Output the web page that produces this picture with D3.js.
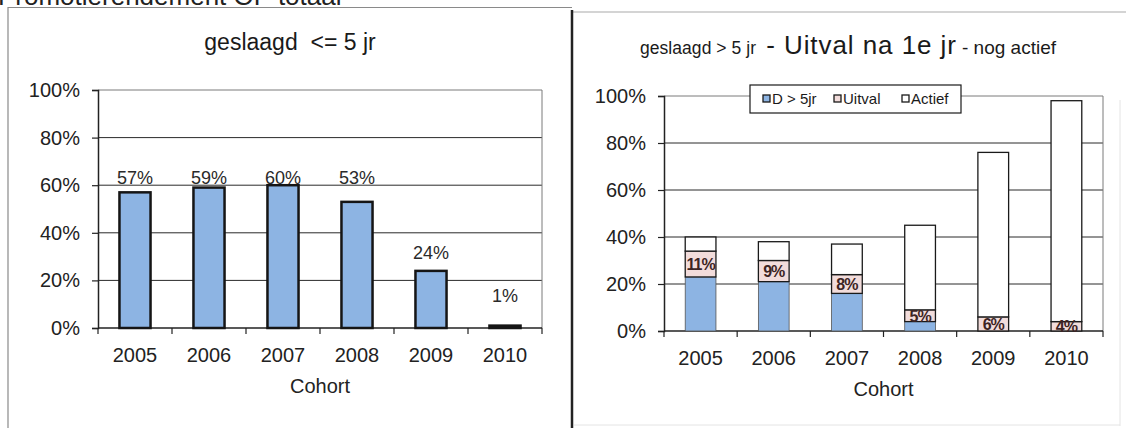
<!DOCTYPE html>
<html>
<head>
<meta charset="utf-8">
<script src="https://cdn.jsdelivr.net/npm/d3@7"></script>
<style>
  html, body { margin: 0; padding: 0; background: #fff; }
  svg { display: block; font-family: Arial, "Liberation Sans", sans-serif; }
</style>
</head>
<body>
<svg id="chart" width="1126" height="428"></svg>
<script>
// ---- data ----
const cohorts = ["2005", "2006", "2007", "2008", "2009", "2010"];
const geslaagd5 = [0.57, 0.59, 0.60, 0.53, 0.24, 0.01];
const seriesNames = ["D > 5jr", "Uitval", "Actief"];
const dMeer5 = [0.23, 0.21, 0.16, 0.04, 0.00, 0.00];
const uitval = [0.11, 0.09, 0.08, 0.05, 0.06, 0.04];
const actief = [0.06, 0.08, 0.13, 0.36, 0.70, 0.94];
const yTicks = [0, 0.2, 0.4, 0.6, 0.8, 1.0];
const pageTitle = "Promotierendement OP totaal";
const titleLeft = "geslaagd  <= 5 jr";
const titleRightParts = ["geslaagd > 5 jr", " - Uitval na 1e jr", "- nog actief"];
const xTitle = "Cohort";

const colors = { blue: "#8db4e3", pink: "#f2dcdb", white: "#ffffff" };
const svg = d3.select("#chart");
const pct = d3.format(".0%");

// page header (cut off at top, as in the source)
svg.append("text").attr("x", -2).attr("y", 5).attr("font-size", 26).attr("fill", "#222").text(pageTitle);

// panel frames
svg.append("path").attr("d", "M8,428 V7.5 H572").attr("fill", "none").attr("stroke", "#8a8a8a").attr("stroke-width", 1.2);
svg.append("line").attr("x1", 572).attr("x2", 1126).attr("y1", 12).attr("y2", 12).attr("stroke", "#aaa").attr("stroke-width", 1.2);
svg.append("line").attr("x1", 572).attr("x2", 572).attr("y1", 10).attr("y2", 428).attr("stroke", "#222").attr("stroke-width", 2.5);
svg.append("line").attr("x1", 1120).attr("x2", 1120).attr("y1", 100).attr("y2", 426).attr("stroke", "#e4e4e4");
svg.append("line").attr("x1", 574).attr("x2", 1120).attr("y1", 425).attr("y2", 425).attr("stroke", "#e4e4e4");

function drawAxes(g, x, y, x0, x1) {
  g.selectAll(".grid").data(yTicks.filter(t => t > 0 && t < 1)).join("line")
    .attr("x1", x0).attr("x2", x1).attr("y1", d => y(d)).attr("y2", d => y(d))
    .attr("stroke", "#2a2a2a").attr("stroke-width", 1);
  g.append("path").attr("d", `M${x0},${y(1)} H${x1} V${y(0)}`).attr("fill", "none")
    .attr("stroke", "#7a7a7a").attr("stroke-width", 1);
  const ya = d3.axisLeft(y).tickValues(yTicks).tickFormat(pct).tickSize(6).tickPadding(12);
  const yg = g.append("g").attr("transform", `translate(${x0},0)`).call(ya);
  yg.select(".domain").attr("stroke", "#222").attr("stroke-width", 1.5);
  yg.selectAll(".tick line").attr("stroke", "#222").attr("stroke-width", 1.2);
  yg.selectAll("text").attr("font-size", 20).attr("fill", "#222").attr("font-family", "Arial, 'Liberation Sans', sans-serif");
  const xa = d3.axisBottom(x).tickSize(0).tickPadding(20);
  const xg = g.append("g").attr("transform", `translate(0,${y(0)})`).call(xa);
  xg.select(".domain").remove();
  xg.selectAll("text").attr("font-size", 20).attr("fill", "#222").attr("font-family", "Arial, 'Liberation Sans', sans-serif");
  g.append("line").attr("x1", x0).attr("x2", x1).attr("y1", y(0)).attr("y2", y(0)).attr("stroke", "#222").attr("stroke-width", 1.5);
  const bounds = cohorts.map(c => x(c) - x.step() * x.paddingOuter()).concat([x1]);
  g.selectAll(".xt").data(bounds).join("line")
    .attr("x1", d => d).attr("x2", d => d).attr("y1", y(0)).attr("y2", y(0) + 6)
    .attr("stroke", "#222").attr("stroke-width", 1.2);
  g.append("text").attr("x", (x0 + x1) / 2).attr("y", y(0) + 65).attr("text-anchor", "middle")
    .attr("font-size", 20).attr("fill", "#222").text(xTitle);
}

// ---- left chart ----
{
  const x0 = 98, x1 = 542;
  const x = d3.scaleBand().domain(cohorts).range([x0, x1]).paddingInner(0.58).paddingOuter(0.29);
  const y = d3.scaleLinear().domain([0, 1]).range([328, 90]);
  const g = svg.append("g");
  svg.append("text").attr("x", 290).attr("y", 50).attr("text-anchor", "middle")
    .attr("font-size", 23).attr("fill", "#1a1a1a").attr("xml:space", "preserve").text(titleLeft);
  drawAxes(g, x, y, x0, x1);
  g.selectAll(".bar").data(geslaagd5).join("rect")
    .attr("x", (d, i) => x(cohorts[i])).attr("width", x.bandwidth())
    .attr("y", d => y(d)).attr("height", d => y(0) - y(d))
    .attr("fill", colors.blue).attr("stroke", "#151515").attr("stroke-width", 2.5);
  g.selectAll(".lbl").data(geslaagd5).join("text")
    .attr("x", (d, i) => x(cohorts[i]) + x.bandwidth() / 2)
    .attr("y", d => d > 0.5 ? y(0.6) - 1 : y(Math.max(d, 0.06)) - 12)
    .attr("text-anchor", "middle").attr("font-size", 18).attr("fill", "#2a2a2a")
    .text(d => pct(d));
}

// ---- right chart ----
{
  const x0 = 664, x1 = 1103;
  const x = d3.scaleBand().domain(cohorts).range([x0, x1]).paddingInner(0.58).paddingOuter(0.29);
  const y = d3.scaleLinear().domain([0, 1]).range([331, 96]);
  const g = svg.append("g");
  const t = svg.append("g").attr("fill", "#1a1a1a");
  t.append("text").attr("x", 640).attr("y", 54).attr("font-size", 17.5)
    .attr("textLength", 116).attr("lengthAdjust", "spacing").text(titleRightParts[0]);
  t.append("text").attr("x", 758).attr("y", 54).attr("font-size", 26).attr("xml:space", "preserve")
    .attr("textLength", 198).attr("lengthAdjust", "spacing").text(titleRightParts[1]);
  t.append("text").attr("x", 962).attr("y", 54).attr("font-size", 19)
    .text(titleRightParts[2]);
  drawAxes(g, x, y, x0, x1);

  const rows = cohorts.map((c, i) => ({ cohort: c, "D > 5jr": dMeer5[i], "Uitval": uitval[i], "Actief": actief[i] }));
  const stack = d3.stack().keys(seriesNames)(rows);
  const fills = [colors.blue, colors.pink, colors.white];
  stack.forEach((layer, li) => {
    g.selectAll(".s" + li).data(layer).join("rect")
      .attr("x", d => x(d.data.cohort)).attr("width", x.bandwidth())
      .attr("y", d => y(d[1])).attr("height", d => Math.max(0, y(d[0]) - y(d[1])))
      .attr("fill", fills[li]).attr("stroke", li === 0 ? "#555" : "#1a1a1a").attr("stroke-width", li === 0 ? 0.8 : 1.3);
  });
  g.selectAll(".ul").data(stack[1]).join("text")
    .attr("x", d => x(d.data.cohort) + x.bandwidth() / 2)
    .attr("y", d => y((d[0] + d[1]) / 2) + 6)
    .attr("text-anchor", "middle").attr("font-size", 16).attr("font-weight", "bold")
    .attr("letter-spacing", -1).attr("fill", "#3d2424")
    .text(d => pct(d[1] - d[0]));

  // legend
  const lg = svg.append("g");
  lg.append("rect").attr("x", 750).attr("y", 85).attr("width", 211).attr("height", 28)
    .attr("fill", "#fff").attr("stroke", "#1a1a1a").attr("stroke-width", 1.2);
  const lx = [763, 834, 902];
  seriesNames.forEach((s, i) => {
    lg.append("rect").attr("x", lx[i]).attr("y", 95).attr("width", 7).attr("height", 7)
      .attr("fill", fills[i]).attr("stroke", "#1a1a1a").attr("stroke-width", 1.3);
    lg.append("text").attr("x", lx[i] + 9).attr("y", 104).attr("font-size", 15).attr("fill", "#1a1a1a").text(s);
  });
}
</script>
</body>
</html>
